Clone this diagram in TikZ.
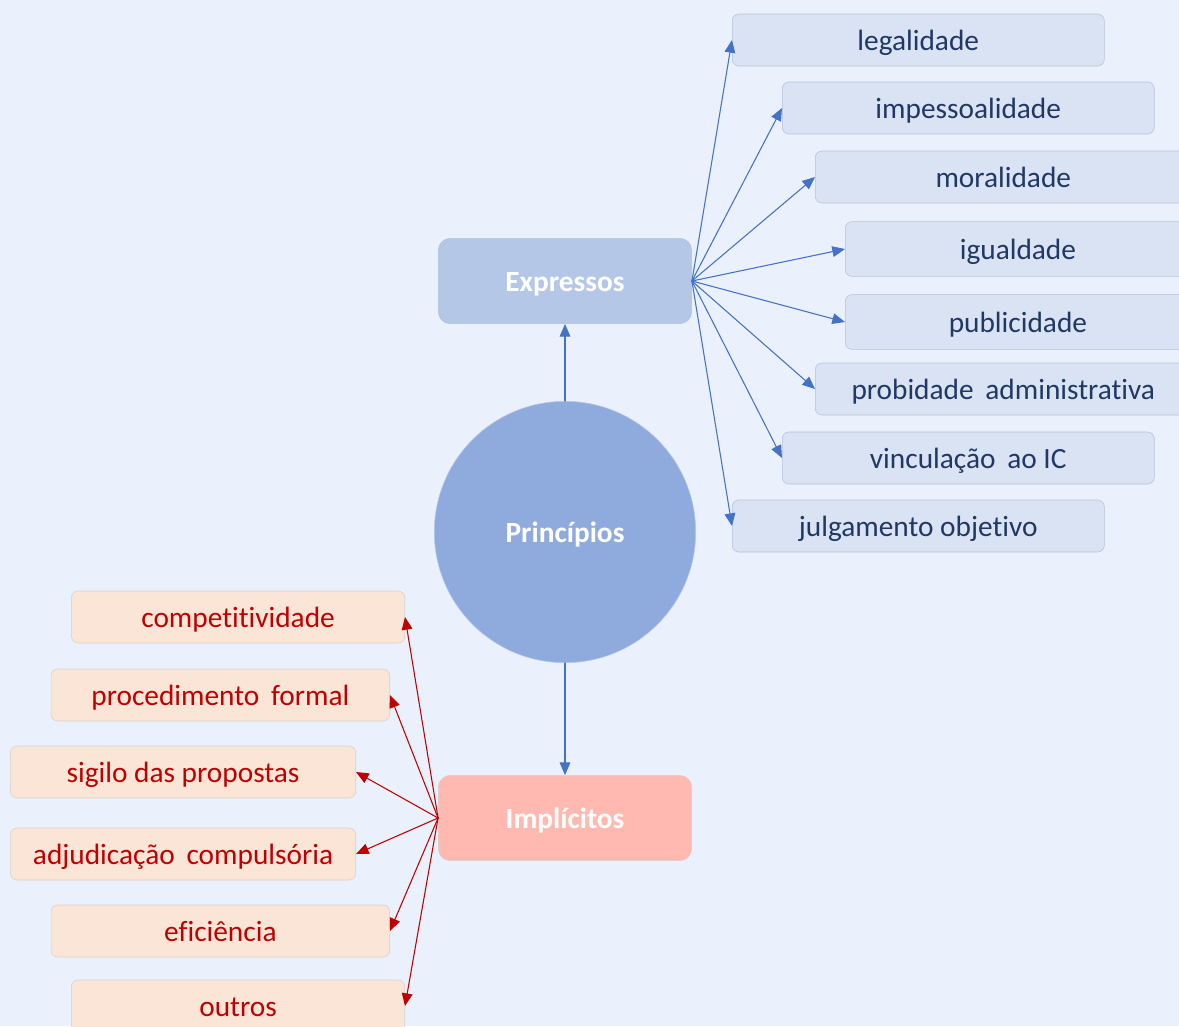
\documentclass[tikz,border=0pt]{standalone}
\usepackage{fontspec}
\setmainfont{Carlito}[Ligatures={NoCommon}]
\usetikzlibrary{arrows.meta}
\definecolor{fundo}{HTML}{EAF1FD}
\definecolor{azulcx}{HTML}{DAE3F3}
\definecolor{azulbd}{HTML}{B3C1DA}
\definecolor{azultx}{HTML}{1F3864}
\definecolor{azulsec}{HTML}{B4C7E7}
\definecolor{azulcirc}{HTML}{8FAADC}
\definecolor{azulseta}{HTML}{4472C4}
\definecolor{rosacx}{HTML}{FBE5D6}
\definecolor{rosabd}{HTML}{D9CFCB}
\definecolor{rosasec}{HTML}{FFB9B0}
\definecolor{vermelho}{HTML}{C00000}
\newcommand{\esp}{\hspace{0.4em}}

\begin{document}
\begin{tikzpicture}[x=0.75pt,y=-0.75pt,line join=round,line cap=round,
	>={Triangle[length=9.5pt,width=8pt]},
	font=\fontsize{22}{26}\selectfont,
	expr/.style={draw=azulbd,fill=azulcx,text=azultx,rounded corners=5pt,
		minimum width=279pt,minimum height=39pt,inner sep=0pt,anchor=west,
		text height=19.5pt,text depth=4.5pt},
	impl/.style={draw=rosabd,fill=rosacx,text=vermelho,rounded corners=5pt,
		minimum height=39pt,inner sep=0pt,anchor=east,
		text height=19.5pt,text depth=4.5pt},
	grupo/.style={rounded corners=9pt,minimum width=190pt,minimum height=64pt,
		inner sep=0pt,text=white,font=\fontsize{22}{26}\selectfont\bfseries,
		text height=19.5pt,text depth=4.5pt},
	setaA/.style={->,draw=azulseta,line width=0.8pt},
	setaV/.style={->,draw=vermelho,line width=0.8pt}]
	\clip (0,0) rectangle (1179,1026);
	\fill[fundo] (0,0) rectangle (1179,1026);
	% centro e grupos
	\node[circle,draw=azulsec,fill=azulcirc,minimum size=196pt,inner sep=0pt,
		text=white,font=\fontsize{22}{26}\selectfont\bfseries,
		text height=19.5pt,text depth=4.5pt] (pr) at (565,532) {Princípios};
	\node[grupo,draw=azulbd,fill=azulsec] (ex) at (565,281) {Expressos};
	\node[grupo,draw=rosabd,fill=rosasec] (im) at (565,818) {Implícitos};
	\draw[setaA] (pr) -- (ex);
	\draw[setaA] (pr) -- (im);
	% principios expressos
	\foreach \n/\t/\x/\y/\w/\h in {e1/legalidade/732/40/279/39,
		e2/impessoalidade/782/108/279/39,e3/moralidade/815/177/282/39,
		e4/igualdade/845/249/259/41,e5/publicidade/845/322/259/41,
		e6/probidade\esp administrativa/815/389/282/39,
		e7/vinculação\esp ao IC/782/458/279/39,e8/julgamento objetivo/732/526/279/39}{
		\node[expr,minimum width=\w pt,minimum height=\h pt] (\n) at (\x,\y) {\t};
		\draw[setaA] (ex.east) -- (\n.west);
	}
	% principios implicitos
	\foreach \n/\t/\x/\y/\w in {i1/competitividade/405/617/250,
		i2/procedimento\esp formal/390/695/254,i3/sigilo das propostas/356/772/259,
		i4/adjudicação\esp compulsória/356/854/259,i5/eficiência/390/931/254,
		i6/outros/405/1006/250}{
		\node[impl,minimum width=\w pt] (\n) at (\x,\y) {\t};
		\draw[setaV] (im.west) -- (\n.east);
	}
\end{tikzpicture}
\end{document}
